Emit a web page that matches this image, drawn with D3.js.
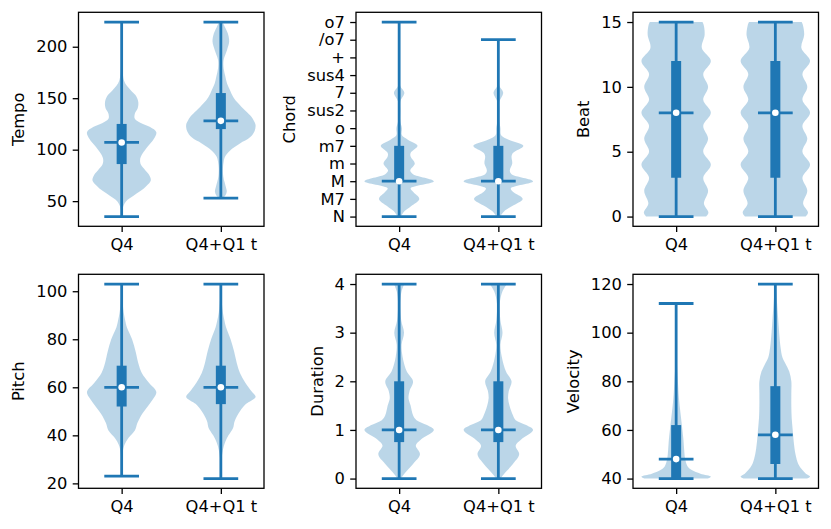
<!DOCTYPE html>
<html>
<head>
<meta charset="utf-8">
<script src="https://cdn.jsdelivr.net/npm/d3@7"></script>
<style>
  body { margin: 0; background: #fff; }
  text { font-family: "DejaVu Sans", sans-serif; }
</style>
</head>
<body>
<svg id="fig" width="831" height="529"></svg>
<script>
const groups = ['Q4', 'Q4+Q1 t'];
const chordLabels = ['N', 'M7', 'M', 'm', 'm7', 'o', 'sus2', '7', 'sus4', '+', '/o7', 'o7'];

// [min, q1, median, q3, max] per group
const tempoStats = [[35, 86, 107, 125, 224], [53, 120, 128, 155, 224]];
const chordStats = [[0, 2, 2, 4, 11], [0, 2, 2, 4, 10]];
const beatStats = [[0, 3, 8, 12, 15], [0, 3, 8, 12, 15]];
const pitchStats = [[23, 52, 60, 69, 103], [22, 53, 60, 69, 103]];
const durationStats = [[0, 0.75, 1, 2, 4], [0, 0.75, 1, 2, 4]];
const velocityStats = [[40, 40, 48, 62, 112], [40, 46, 58, 78, 120]];

// violin outlines: [value, relative half width]
const tempoQ4 = [[35, 0], [42, 0.02], [46, 0.06], [50, 0.13], [55, 0.33], [60, 0.55], [65, 0.72], [70, 0.84],
  [75, 0.8], [80, 0.68], [85, 0.56], [90, 0.53], [95, 0.58], [100, 0.68], [105, 0.8], [110, 0.92], [117, 1.0],
  [122, 0.82], [126, 0.55], [130, 0.38], [135, 0.38], [140, 0.46], [146, 0.48], [152, 0.42], [157, 0.28],
  [162, 0.15], [167, 0.07], [175, 0.03], [190, 0.015], [224, 0.01]];
const tempoQ1 = [[53, 0.04], [55, 0.12], [59, 0.17], [63, 0.15], [68, 0.11], [74, 0.07], [82, 0.06], [88, 0.08],
  [93, 0.12], [99, 0.26], [106, 0.55], [112, 0.84], [118, 0.97], [124, 1.0], [128, 0.95], [132, 0.88],
  [138, 0.7], [145, 0.5], [151, 0.36], [158, 0.26], [164, 0.18], [171, 0.13], [179, 0.08], [187, 0.08],
  [197, 0.18], [205, 0.24], [213, 0.2], [219, 0.12], [224, 0.05]];

const chordQ4 = [[0, 0.05], [0.3, 0.15], [0.6, 0.35], [1, 0.58], [1.4, 0.4], [1.6, 0.33], [2, 1.0], [2.4, 0.4],
  [2.6, 0.32], [3, 0.45], [3.4, 0.33], [3.6, 0.33], [4, 0.53], [4.35, 0.25], [4.6, 0.08], [5, 0.08],
  [5.4, 0.03], [6, 0.03], [6.5, 0.03], [7, 0.15], [7.4, 0.03], [8, 0.01], [9, 0.005], [10, 0.005], [11, 0.005]];
const chordQ1 = [[0, 0.05], [0.3, 0.17], [0.6, 0.4], [1, 0.7], [1.4, 0.42], [1.6, 0.36], [2, 1.0], [2.4, 0.38],
  [2.6, 0.33], [3, 0.4], [3.4, 0.38], [3.6, 0.42], [4, 0.72], [4.35, 0.3], [4.6, 0.08], [5, 0.06],
  [5.4, 0.03], [6, 0.03], [6.5, 0.03], [7, 0.14], [7.4, 0.03], [8, 0.01], [9, 0.005], [10, 0.005]];

const beatQ4 = [[0, 0.86], [0.3, 0.93], [1, 0.8], [2, 0.92], [3, 0.78], [4, 1.0], [5, 0.78], [6, 0.92], [7, 0.78],
  [8, 1.0], [9, 0.78], [10, 0.92], [11, 0.78], [12, 1.0], [13, 0.74], [14, 0.82], [14.7, 0.8], [15, 0.76]];
const beatQ1 = [[0, 0.87], [0.3, 0.94], [1, 0.8], [2, 0.92], [3, 0.78], [4, 1.0], [5, 0.78], [6, 0.92], [7, 0.78],
  [8, 1.0], [9, 0.78], [10, 0.92], [11, 0.78], [12, 1.0], [13, 0.75], [14, 0.83], [14.7, 0.8], [15, 0.76]];

const pitchQ4 = [[23, 0], [28, 0.01], [33, 0.03], [36, 0.08], [39, 0.2], [42, 0.38], [45, 0.45], [48, 0.55],
  [52, 0.75], [55, 0.9], [58, 1.0], [62, 0.78], [66, 0.58], [70, 0.48], [75, 0.4], [80, 0.3], [85, 0.15],
  [88, 0.1], [91, 0.06], [95, 0.03], [100, 0.01], [103, 0]];
const pitchQ1 = [[22, 0], [26, 0.01], [30, 0.02], [34, 0.06], [37, 0.12], [40, 0.22], [43, 0.35], [46, 0.4],
  [50, 0.55], [53, 0.72], [56, 1.0], [58, 0.9], [62, 0.7], [66, 0.55], [70, 0.46], [75, 0.38], [80, 0.28],
  [85, 0.15], [88, 0.1], [91, 0.06], [95, 0.03], [100, 0.01], [103, 0]];

const durationQ4 = [[0, 0.05], [0.1, 0.15], [0.3, 0.4], [0.5, 0.6], [0.68, 0.48], [0.8, 0.62], [1, 1.0],
  [1.1, 0.8], [1.2, 0.5], [1.3, 0.4], [1.5, 0.33], [1.65, 0.27], [1.8, 0.3], [2, 0.4], [2.2, 0.22],
  [2.5, 0.1], [2.75, 0.07], [3, 0.14], [3.25, 0.06], [3.6, 0.03], [3.85, 0.07], [4, 0.15]];
const durationQ1 = [[0, 0.06], [0.1, 0.17], [0.3, 0.42], [0.5, 0.6], [0.68, 0.5], [0.8, 0.65], [1, 1.0],
  [1.1, 0.8], [1.2, 0.5], [1.3, 0.42], [1.5, 0.32], [1.65, 0.28], [1.8, 0.3], [2, 0.38], [2.2, 0.22],
  [2.5, 0.1], [2.75, 0.06], [3, 0.12], [3.25, 0.06], [3.6, 0.04], [3.85, 0.12], [4, 0.25]];

const velocityQ4 = [[40, 0.9], [40.8, 1.0], [42, 0.7], [43.5, 0.45], [45, 0.33], [48, 0.26], [52, 0.23],
  [56, 0.21], [60, 0.18], [65, 0.14], [70, 0.1], [75, 0.07], [80, 0.05], [85, 0.03], [90, 0.02],
  [100, 0.01], [112, 0.005]];
const velocityQ1 = [[40, 0.9], [40.8, 1.0], [42, 0.88], [44, 0.75], [46, 0.66], [50, 0.58], [55, 0.53],
  [60, 0.5], [65, 0.47], [70, 0.46], [75, 0.46], [80, 0.46], [84, 0.4], [87, 0.3], [90, 0.2], [94, 0.15],
  [100, 0.11], [106, 0.08], [112, 0.05], [120, 0.01]];

const panels = [
  {label: 'Tempo', stats: tempoStats, shapes: [tempoQ4, tempoQ1], ticks: [50, 100, 150, 200]},
  {label: 'Chord', stats: chordStats, shapes: [chordQ4, chordQ1], ticks: d3.range(chordLabels.length),
    format: (d) => chordLabels[d]},
  {label: 'Beat', stats: beatStats, shapes: [beatQ4, beatQ1], ticks: [0, 5, 10, 15]},
  {label: 'Pitch', stats: pitchStats, shapes: [pitchQ4, pitchQ1], ticks: [20, 40, 60, 80, 100]},
  {label: 'Duration', stats: durationStats, shapes: [durationQ4, durationQ1], ticks: [0, 1, 2, 3, 4]},
  {label: 'Velocity', stats: velocityStats, shapes: [velocityQ4, velocityQ1], ticks: [40, 60, 80, 100, 120]}
];

const blue = '#1f77b4';
const fontSize = '16.3px';
const lefts = [78.5, 356, 633];
const tops = [12.3, 274.3];
const w = 185.5;
const h = 214;
const vWidth = 0.7;

const svg = d3.select('#fig');

panels.forEach((p, i) => {
  const g = svg.append('g')
    .attr('transform', 'translate(' + lefts[i % 3] + ',' + tops[Math.floor(i / 3)] + ')');

  const lo = d3.min(p.stats, (s) => s[0]);
  const hi = d3.max(p.stats, (s) => s[4]);
  const pad = (hi - lo) * 0.05;
  const yScale = d3.scaleLinear().domain([lo - pad, hi + pad]).range([h, 0]);
  const xScale = d3.scaleLinear().domain([0.565, 2.435]).range([0, w]);

  p.shapes.forEach((shape, k) => {
    const pos = k + 1;
    const s = p.stats[k];
    const area = d3.area()
      .curve(d3.curveCatmullRom)
      .y((d) => yScale(d[0]))
      .x0((d) => xScale(pos - d[1] * vWidth / 2))
      .x1((d) => xScale(pos + d[1] * vWidth / 2));
    g.append('path')
      .attr('d', area(shape))
      .attr('fill', blue)
      .attr('fill-opacity', 0.3);

    g.append('line')
      .attr('x1', xScale(pos)).attr('x2', xScale(pos))
      .attr('y1', yScale(s[0])).attr('y2', yScale(s[4]))
      .attr('stroke', blue).attr('stroke-width', 2.8);
    [s[0], s[4], s[2]].forEach((v) => {
      g.append('line')
        .attr('x1', xScale(pos - vWidth / 4)).attr('x2', xScale(pos + vWidth / 4))
        .attr('y1', yScale(v)).attr('y2', yScale(v))
        .attr('stroke', blue).attr('stroke-width', 2.8);
    });
    g.append('line')
      .attr('x1', xScale(pos)).attr('x2', xScale(pos))
      .attr('y1', yScale(s[1])).attr('y2', yScale(s[3]))
      .attr('stroke', blue).attr('stroke-width', 10);
    g.append('circle')
      .attr('cx', xScale(pos)).attr('cy', yScale(s[2]))
      .attr('r', 3.3).attr('fill', '#fff');
  });

  const yAxis = d3.axisLeft(yScale).tickValues(p.ticks).tickSize(5.8).tickPadding(5.3)
    .tickFormat(p.format || ((d) => d));
  const yg = g.append('g').call(yAxis);
  const xg = g.append('g').attr('transform', 'translate(0,' + h + ')')
    .call(d3.axisBottom(xScale).tickValues([1, 2]).tickFormat((d) => groups[d - 1]).tickSize(5.8).tickPadding(6.5));

  [yg, xg].forEach((ax) => {
    ax.select('.domain').remove();
    ax.selectAll('line').attr('stroke', '#000').attr('stroke-width', 1.3);
    ax.selectAll('text').attr('fill', '#000').style('font-size', fontSize).style('font-family', '"DejaVu Sans"');
  });

  g.append('rect')
    .attr('width', w).attr('height', h)
    .attr('fill', 'none').attr('stroke', '#000').attr('stroke-width', 1.3);

  const tickLeft = d3.min(yg.selectAll('text').nodes(), (n) => n.getBBox().x);
  g.append('text')
    .attr('transform', 'translate(' + (tickLeft - 12) + ',' + (h / 2) + ') rotate(-90)')
    .attr('text-anchor', 'middle')
    .style('font-size', fontSize)
    .text(p.label);
});
</script>
</body>
</html>
